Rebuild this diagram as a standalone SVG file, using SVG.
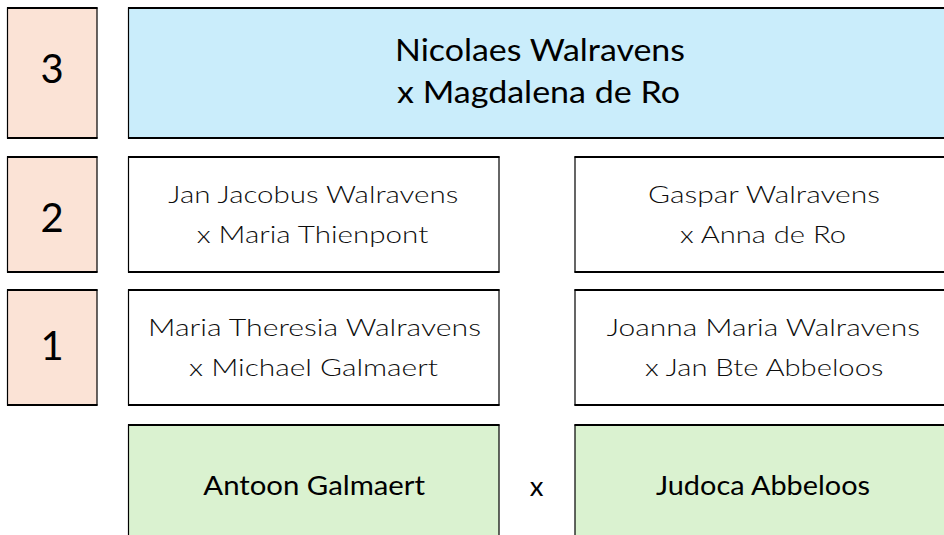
<svg xmlns="http://www.w3.org/2000/svg" width="944" height="535" viewBox="0 0 944 535">
<style>
.peach{fill:#FBE3D6}
.blue{fill:#CAEDFB}
.green{fill:#DAF2D0}
.white{fill:#FFFFFF}
.box{stroke:#000;stroke-width:1.2}
.hb{stroke:#000;stroke-width:2;fill:none}
text{font-family:Lato,"Open Sans","Liberation Sans",sans-serif;text-anchor:middle}
.num{font-size:40px;fill:#000}
.big{font-size:31px;fill:#000}
.light{font-size:24px;fill:#0d0d0d;font-weight:300}
.mid{font-size:27.5px;fill:#000}
</style>
<rect width="944" height="535" fill="#fff"/>
<g id="gen3">
<rect class="peach box" x="7.5" y="8" width="89.5" height="130"/>
<path class="hb" d="M7 8H97.5M7 138H97.5"/>
<text class="num" x="52" y="83">3</text>
</g>
<g id="nicolaes">
<rect class="blue box" x="128.5" y="8" width="830" height="130"/>
<path class="hb" d="M128 8H944M128 138H944"/>
<text class="big" x="540" y="60.7" textLength="290" lengthAdjust="spacingAndGlyphs">Nicolaes Walravens</text>
<text class="big" x="538.5" y="103.3" textLength="283" lengthAdjust="spacingAndGlyphs">x Magdalena de Ro</text>
</g>
<g id="gen2">
<rect class="peach box" x="7.5" y="157" width="89.5" height="115"/>
<path class="hb" d="M7 157H97.5M7 272H97.5"/>
<text class="num" x="52" y="232">2</text>
</g>
<g id="jan">
<rect class="white box" x="128.5" y="157" width="370.5" height="115"/>
<path class="hb" d="M128 157H499.5M128 272H499.5"/>
<text class="light" x="313.3" y="203.3" textLength="290" lengthAdjust="spacingAndGlyphs">Jan Jacobus Walravens</text>
<text class="light" x="312.5" y="242.7" textLength="231.7" lengthAdjust="spacingAndGlyphs">x Maria Thienpont</text>
</g>
<g id="gaspar">
<rect class="white box" x="575" y="157" width="400" height="115"/>
<path class="hb" d="M574.5 157H944M574.5 272H944"/>
<text class="light" x="764" y="203.3" textLength="232" lengthAdjust="spacingAndGlyphs">Gaspar Walravens</text>
<text class="light" x="763" y="242.7" textLength="166" lengthAdjust="spacingAndGlyphs">x Anna de Ro</text>
</g>
<g id="gen1">
<rect class="peach box" x="7.5" y="290" width="89.5" height="115"/>
<path class="hb" d="M7 290H97.5M7 405H97.5"/>
<text class="num" x="52" y="360">1</text>
</g>
<g id="maria">
<rect class="white box" x="128.5" y="290" width="370.5" height="115"/>
<path class="hb" d="M128 290H499.5M128 405H499.5"/>
<text class="light" x="314.5" y="336" textLength="333" lengthAdjust="spacingAndGlyphs">Maria Theresia Walravens</text>
<text class="light" x="313.5" y="376" textLength="249" lengthAdjust="spacingAndGlyphs">x Michael Galmaert</text>
</g>
<g id="joanna">
<rect class="white box" x="575" y="290" width="400" height="115"/>
<path class="hb" d="M574.5 290H944M574.5 405H944"/>
<text class="light" x="763.3" y="336" textLength="313.3" lengthAdjust="spacingAndGlyphs">Joanna Maria Walravens</text>
<text class="light" x="764.2" y="376" textLength="238.3" lengthAdjust="spacingAndGlyphs">x Jan Bte Abbeloos</text>
</g>
<g id="antoon">
<rect class="green box" x="128.5" y="425" width="370.5" height="130"/>
<path class="hb" d="M128 425H499.5"/>
<text class="mid" x="314.2" y="495" textLength="221.7" lengthAdjust="spacingAndGlyphs">Antoon Galmaert</text>
</g>
<g id="marriage-x">
<text class="mid" x="536.7" y="496">x</text>
</g>
<g id="judoca">
<rect class="green box" x="575" y="425" width="400" height="130"/>
<path class="hb" d="M574.5 425H944"/>
<text class="mid" x="763" y="495" textLength="214" lengthAdjust="spacingAndGlyphs">Judoca Abbeloos</text>
</g>
<g id="connectors"/>
</svg>
